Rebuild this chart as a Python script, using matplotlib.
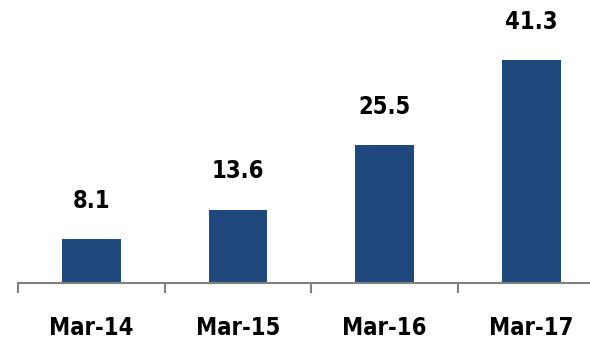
import numpy as np
import matplotlib.pyplot as plt

months = ['Mar-14', 'Mar-15', 'Mar-16', 'Mar-17']
values = [8.1, 13.6, 25.5, 41.3]

plt.rcParams['font.family'] = ['DejaVu Sans Condensed', 'Liberation Sans Narrow', 'DejaVu Sans']
plt.rcParams['font.stretch'] = 'condensed'

fig = plt.figure(figsize=(5.9, 3.41), dpi=100)
ax = fig.add_axes([18/590, 58/341, 586.7/590, 283/341])

x = np.arange(len(months))
bars = ax.bar(x, values, width=0.4, color='#1F497D')

for xi, v in zip(x, values):
    ax.annotate(f'{v}', (xi, v), xytext=(0, 19), textcoords='offset points',
                ha='center', va='bottom', fontsize=17, fontweight='bold')

ax.set_xlim(-0.5, 3.5)
ax.set_ylim(0, 283/5.4)

for s in ['top', 'right', 'left']:
    ax.spines[s].set_visible(False)
ax.spines['bottom'].set_color('#808080')
ax.spines['bottom'].set_linewidth(1.5)

ax.set_yticks([])
ax.set_xticks(x)
ax.set_xticklabels(months, fontsize=17, fontweight='bold')
ax.tick_params(axis='x', which='major', length=0, pad=24)
ax.set_xticks(np.arange(-0.5, 4.0, 1.0), minor=True)
ax.tick_params(axis='x', which='minor', length=7, width=1.5, color='#808080', direction='out')

plt.savefig('out.png', dpi=100)
